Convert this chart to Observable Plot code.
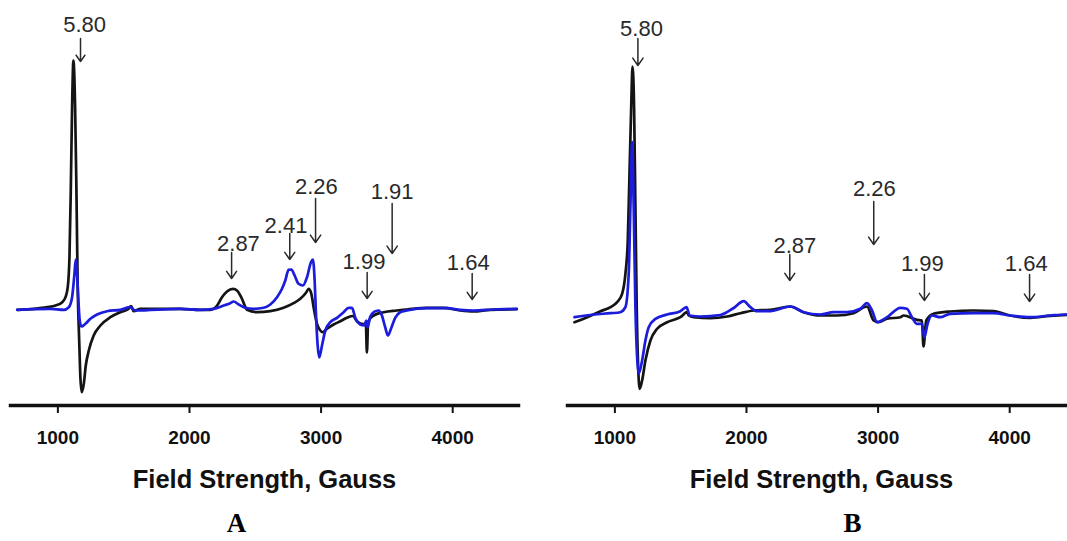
<!DOCTYPE html>
<html>
<head>
<meta charset="utf-8">
<script src="https://cdn.jsdelivr.net/npm/d3@7"></script>
<script src="https://cdn.jsdelivr.net/npm/@observablehq/plot@0.6"></script>
<style>
  html, body { margin: 0; padding: 0; background: #fff; }
  #page { position: relative; width: 1067px; height: 541px; overflow: hidden; }
  #page > div { position: absolute; top: 0; width: 530px; height: 541px; }
  #panelA { left: 0; }
  #panelB { left: 557px; }
  #page svg { font-family: "Liberation Sans", Arial, sans-serif; overflow: visible; max-width: none !important; width: 530px; height: 541px; }
</style>
</head>
<body>
<div id="page"><div id="panelA"></div><div id="panelB"></div></div>
<script>
// EPR spectra: [field (G), signal (a.u.)]
const aBlack = [[691,-1.3],[817,-0.3],[919,1.3],[982,3],[1033,6.3],[1058,11.3],[1075,21.3],[1088,51.3],[1098,118],[1108,201.3],[1118,248],[1131,201.3],[1141,118],[1151,18],[1162,-32],[1171,-68.7],[1181,-83.7],[1197,-75.3],[1212,-57],[1235,-42],[1272,-27],[1323,-17],[1399,-8.7],[1475,-3.7],[1538,-0.3],[1556,2.3],[1576,-2.7],[1627,-0.3],[1931,-0.3],[2083,-1.3],[2159,-1.3],[2210,3],[2247,11.3],[2285,17],[2331,19.7],[2361,18],[2399,9.7],[2437,-1.3],[2513,-3.7],[2614,-2.7],[2715,0.7],[2791,5.3],[2842,9.7],[2888,16.3],[2905,19.7],[2926,14.7],[2943,1.3],[2969,-15.3],[2994,-22],[3014,-23.7],[3045,-20.3],[3095,-16],[3146,-12.7],[3197,-9.3],[3240,-7.5],[3275,-13],[3320,-15.5],[3340,-15],[3348,-44],[3358,-13],[3399,-7],[3475,-3.7],[3576,-2],[3652,-1],[3804,0.7],[3930,0.7],[4057,-2],[4158,-3],[4285,-1.3],[4487,-0.7]];
const aBlue = [[691,-1.3],[944,-0.3],[1045,-1.3],[1083,1.3],[1108,11.3],[1126,34.7],[1136,49],[1146,34.7],[1156,8],[1166,-12],[1179,-18],[1209,-15.3],[1247,-10.3],[1298,-6],[1374,-2.7],[1475,-1.3],[1551,1.3],[1589,-2],[1931,-0.3],[2083,-1.3],[2184,-0.3],[2260,3],[2310,5.3],[2336,7],[2374,4],[2424,0.7],[2487,-0.3],[2563,0.7],[2614,4],[2665,11.3],[2703,19.7],[2728,28],[2753,38.7],[2774,39],[2799,33],[2829,24.7],[2862,23],[2893,31.3],[2923,46.3],[2938,49],[2951,28],[2961,-5.3],[2973,-35.3],[2986,-49],[3007,-37],[3032,-22],[3070,-13.7],[3121,-9.3],[3171,-3.7],[3209,0.7],[3235,0.7],[3260,-9.3],[3298,-16],[3328,-17],[3343,-12],[3353,-18.7],[3374,-8],[3399,-3.7],[3437,-2],[3462,-7],[3487,-18.7],[3508,-27],[3531,-20.3],[3563,-9.3],[3601,-3.7],[3652,-2],[3804,0.3],[3956,0.3],[4057,-1.3],[4158,-2],[4310,-1],[4487,-0.3]];
const bBlack = [[693,-13.7],[790,-8.7],[891,-2.7],[967,1.3],[1017,6.3],[1055,14.7],[1080,34.7],[1098,68],[1111,134.7],[1124,201.3],[1134,242],[1146,201.3],[1156,101.3],[1166,1.3],[1177,-58.7],[1189,-80.3],[1207,-72],[1232,-52],[1270,-32],[1321,-20.3],[1397,-13.7],[1498,-8.7],[1549,-3.7],[1561,-7],[1599,-8.7],[1726,-9.7],[1853,-8],[1954,-4.7],[2055,-2],[2181,-1.3],[2333,2],[2434,-3.7],[2561,-7],[2688,-7],[2814,-4.7],[2916,2],[2966,-12],[3004,-13.7],[3068,-10.3],[3169,-8.7],[3194,-7],[3295,-11.3],[3333,-12],[3345,-38],[3366,-12],[3421,-5.3],[3548,-3],[3725,-2],[3877,-2.7],[4004,-7],[4156,-9.3],[4307,-7.3],[4437,-6.3],[4500,-6]];
const bBlue = [[693,-8.7],[840,-6],[967,-4.7],[1042,-3.7],[1080,1.3],[1105,34.7],[1118,101.3],[1131,166.3],[1143,101.3],[1156,1.3],[1169,-48.7],[1181,-65.3],[1207,-52],[1232,-32],[1257,-18.7],[1308,-10.3],[1397,-6],[1498,-2.7],[1544,1.3],[1569,-7],[1650,-8],[1802,-6.5],[1903,0.5],[1979,7.3],[2030,1.3],[2080,-2.7],[2181,-2.7],[2333,2],[2434,-3.7],[2561,-6],[2662,-3.7],[2764,-3.7],[2865,-0.3],[2916,5.3],[2954,-2],[2992,-13.7],[3068,-8.7],[3169,0.7],[3219,-0.3],[3257,-8.7],[3295,-15.3],[3333,-15.3],[3351,-28.7],[3376,-15.3],[3409,-7],[3472,-8.7],[3548,-5.3],[3725,-4.7],[3877,-4.7],[4004,-7],[4156,-8.7],[4307,-7],[4437,-6],[4500,-6]];

// g-value markers: arrow field, arrow top/tip level, label field/level
const aG = ["5.80", "2.87", "2.41", "2.26", "1.91", "1.99", "1.64"];
const aArrowField = [1172, 2320, 2762, 2958, 3540, 3350, 4148];
const aArrowTop = [270, 56, 75, 110, 105, 36, 35];
const aArrowTip = [247, 30, 49, 66, 55, 10, 9];
const aLabelField = [1203, 2372, 2733, 2964, 3540, 3326, 4118];
const aLabelLevel = [284, 65, 83, 122, 117, 47, 46];

const bG = ["5.80", "2.87", "2.26", "1.99", "1.64"];
const bArrowField = [1175, 2329, 2967, 3352, 4151];
const bArrowTop = [270, 54, 107, 34, 34];
const bArrowTip = [243, 28, 64, 8, 7];
const bLabelField = [1202, 2368, 2972, 3336, 4126];
const bLabelLevel = [280, 63, 120, 45, 45];

const fieldTicks = [1000, 2000, 3000, 4000];
const axisTitle = "Field Strength, Gauss";

function panel(black, blue, g, arrowField, arrowTop, arrowTip, labelField, labelLevel, letter, letterDx) {
  const idx = d3.range(g.length);
  return Plot.plot({
    width: 530,
    height: 541,
    marginLeft: 10,
    marginRight: 12,
    marginTop: 0,
    marginBottom: 136,
    x: {domain: [640, 4500]},
    y: {domain: [-97, 308], axis: null},
    marks: [
      Plot.frame({anchor: "bottom", stroke: "#111", strokeWidth: 3.5}),
      Plot.axisX({
        ticks: fieldTicks,
        tickFormat: d => String(d),
        tickSize: 8,
        tickPadding: 17,
        strokeWidth: 2,
        stroke: "#111",
        fill: "#111",
        fontSize: 19,
        fontWeight: "bold",
        label: null
      }),
      Plot.text([axisTitle], {
        frameAnchor: "bottom", lineAnchor: "top", dy: 64,
        fontSize: 25.5, fontWeight: "bold", fill: "#111"
      }),
      Plot.text([letter], {
        frameAnchor: "bottom", lineAnchor: "top", dy: 107, dx: letterDx,
        fontSize: 27, fontWeight: "bold", fill: "#000",
        fontFamily: "'Liberation Serif', 'Times New Roman', serif"
      }),
      Plot.line(black, {x: d => d[0], y: d => d[1], stroke: "#141414", strokeWidth: 2.7, curve: "monotone-x"}),
      Plot.line(blue, {x: d => d[0], y: d => d[1], stroke: "#1c1cdc", strokeWidth: 2.7, curve: "monotone-x"}),
      Plot.arrow(idx, {
        x1: i => arrowField[i], x2: i => arrowField[i],
        y1: i => arrowTop[i], y2: i => arrowTip[i],
        stroke: "#2a2a2a", strokeWidth: 1.5, headLength: 9, headAngle: 70
      }),
      Plot.text(idx, {
        x: i => labelField[i], y: i => labelLevel[i], text: i => g[i],
        fontSize: 22, fill: "#2a2a2a"
      })
    ]
  });
}

document.getElementById("panelA").append(
  panel(aBlack, aBlue, aG, aArrowField, aArrowTop, aArrowTip, aLabelField, aLabelLevel, "A", -28)
);
document.getElementById("panelB").append(
  panel(bBlack, bBlue, bG, bArrowField, bArrowTop, bArrowTip, bLabelField, bLabelLevel, "B", 31)
);
</script>
</body>
</html>
